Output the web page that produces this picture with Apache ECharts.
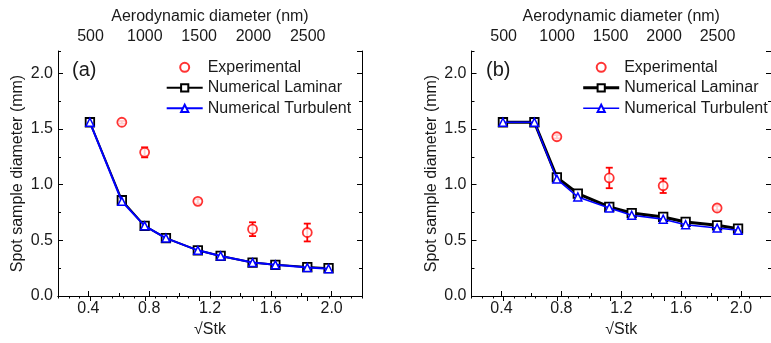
<!DOCTYPE html>
<html><head><meta charset="utf-8">
<script src="https://cdn.jsdelivr.net/npm/echarts@6/dist/echarts.min.js"></script>
<style>html,body{margin:0;padding:0;background:#fff}#c{width:771px;height:343px}</style>
</head><body><div id="c"></div>
<script>
// ---- data ----
const stk = [0.41, 0.62, 0.77, 0.91, 1.12, 1.27, 1.48, 1.63, 1.84, 1.98];
const laminarA = [1.56, 0.86, 0.63, 0.52, 0.41, 0.36, 0.30, 0.28, 0.26, 0.25];
const turbulentA = [1.56, 0.85, 0.63, 0.52, 0.41, 0.36, 0.30, 0.28, 0.255, 0.245];
const expXA = [0.62, 0.77, 1.12, 1.48, 1.84];
const expYA = [1.56, 1.29, 0.85, 0.60, 0.57];
const expErrA = [0.012, 0.045, 0.02, 0.062, 0.08];
const laminarB = [1.56, 1.56, 1.065, 0.92, 0.80, 0.745, 0.71, 0.665, 0.635, 0.605];
const turbulentB = [1.56, 1.56, 1.05, 0.89, 0.79, 0.725, 0.69, 0.64, 0.61, 0.59];
const expXB = [0.77, 1.12, 1.48, 1.84];
const expYB = [1.43, 1.06, 0.99, 0.79];
const expErrB = [0.015, 0.092, 0.065, 0.02];
const bottomTicks = [0.4, 0.8, 1.2, 1.6, 2.0];
const topTicks = [500, 1000, 1500, 2000, 2500];
const panelLabels = ['(a)', '(b)'];
const names = ['Experimental', 'Numerical Laminar', 'Numerical Turbulent'];

const FONT = 'Liberation Sans, Arial, sans-serif';
const TXT = '#1a1a1a';
const chart = echarts.init(document.getElementById('c'));

const gridsPos = [{left: 58, top: 51, width: 304, height: 245}, {left: 471.5, top: 51, width: 304, height: 245}];
const xAxes = [], yAxes = [];
gridsPos.forEach((g, gi) => {
  const line = {show: true, lineStyle: {color: '#000', width: 1}};
  // bottom main
  xAxes.push({gridIndex: gi, type: 'value', position: 'bottom', min: 0.2, max: 2.2,
    name: '√Stk', nameLocation: 'middle', nameGap: 26,
    nameTextStyle: {fontSize: 16, color: TXT, fontFamily: FONT},
    axisLine: line, splitLine: {show: false},
    axisTick: {inside: true, length: 5, customValues: bottomTicks, lineStyle: {color: '#000'}},
    axisLabel: {customValues: bottomTicks, margin: 5, fontSize: 16, color: TXT, fontFamily: FONT, formatter: v => v.toFixed(1)}});
  // bottom minor
  xAxes.push({gridIndex: gi, type: 'value', position: 'bottom', min: 0.2, max: 2.2, interval: 0.2,
    axisLine: {show: false}, splitLine: {show: false}, axisLabel: {show: false},
    axisTick: {inside: true, length: 3, lineStyle: {color: '#000'}}});
  // top main
  xAxes.push({gridIndex: gi, type: 'value', position: 'top', min: 200, max: 3000,
    name: 'Aerodynamic diameter (nm)', nameLocation: 'middle', nameGap: 26,
    nameTextStyle: {fontSize: 16, color: TXT, fontFamily: FONT},
    axisLine: line, splitLine: {show: false},
    axisTick: {inside: true, length: 5, customValues: topTicks, lineStyle: {color: '#000'}},
    axisLabel: {customValues: topTicks, margin: 6, fontSize: 16, color: TXT, fontFamily: FONT, formatter: v => String(v)}});
  // top minor
  xAxes.push({gridIndex: gi, type: 'value', position: 'top', min: 200, max: 3000, interval: 100,
    axisLine: {show: false}, splitLine: {show: false}, axisLabel: {show: false},
    axisTick: {inside: true, length: 2.5, lineStyle: {color: '#000'}}});
  // left main
  yAxes.push({gridIndex: gi, type: 'value', position: 'left', min: 0, max: 2.2, interval: 0.5,
    name: 'Spot sample diameter (mm)', nameLocation: 'middle', nameGap: 32,
    nameTextStyle: {fontSize: 16, color: TXT, fontFamily: FONT},
    axisLine: line, splitLine: {show: false},
    axisTick: {inside: true, length: 5, lineStyle: {color: '#000'}},
    axisLabel: {margin: 5, fontSize: 16, color: TXT, fontFamily: FONT, showMaxLabel: false, formatter: v => v.toFixed(1)}});
  // left minor
  yAxes.push({gridIndex: gi, type: 'value', position: 'left', min: 0, max: 2.2, interval: 0.25,
    axisLine: {show: false}, splitLine: {show: false}, axisLabel: {show: false},
    axisTick: {inside: true, length: 3, lineStyle: {color: '#000'}}});
  // right main
  yAxes.push({gridIndex: gi, type: 'value', position: 'right', min: 0, max: 2.2, interval: 0.5,
    axisLine: line, splitLine: {show: false}, axisLabel: {show: false},
    axisTick: {inside: true, length: 5, lineStyle: {color: '#000'}}});
  // right minor
  yAxes.push({gridIndex: gi, type: 'value', position: 'right', min: 0, max: 2.2, interval: 0.25,
    axisLine: {show: false}, splitLine: {show: false}, axisLabel: {show: false},
    axisTick: {inside: true, length: 3, lineStyle: {color: '#000'}}});
});

function errRender(params, api) {
  const x = api.value(0), y = api.value(1), e = api.value(2);
  const hi = api.coord([x, y + e]), lo = api.coord([x, y - e]);
  const w = 3.5, st = {stroke: '#ff0000', lineWidth: 1.8};
  return {type: 'group', children: [
    {type: 'line', shape: {x1: hi[0], y1: hi[1], x2: lo[0], y2: lo[1]}, style: st},
    {type: 'line', shape: {x1: hi[0] - w, y1: hi[1], x2: hi[0] + w, y2: hi[1]}, style: st},
    {type: 'line', shape: {x1: lo[0] - w, y1: lo[1], x2: lo[0] + w, y2: lo[1]}, style: st}
  ]};
}

const panels = [
  {lam: laminarA, tur: turbulentA, ex: expXA, ey: expYA, ee: expErrA, lamW: 2, turW: 2},
  {lam: laminarB, tur: turbulentB, ex: expXB, ey: expYB, ee: expErrB, lamW: 3, turW: 1.6}
];
const series = [];
panels.forEach((p, gi) => {
  const xi = gi * 4, yi = gi * 4;
  series.push({type: 'custom', xAxisIndex: xi, yAxisIndex: yi, z: 2, silent: true,
    encode: {x: 0, y: 1}, renderItem: errRender,
    data: p.ex.map((x, i) => [x, p.ey[i], p.ee[i]])});
  series.push({type: 'line', name: names[1], xAxisIndex: xi, yAxisIndex: yi, z: 3,
    symbol: 'rect', symbolSize: 8.5, showAllSymbol: true,
    lineStyle: {color: '#000', width: p.lamW},
    itemStyle: {color: '#fff', borderColor: '#000', borderWidth: 1.8},
    data: stk.map((x, i) => [x, p.lam[i]])});
  series.push({type: 'line', name: names[2], xAxisIndex: xi, yAxisIndex: yi, z: 4,
    symbol: 'triangle', symbolSize: 8, showAllSymbol: true,
    lineStyle: {color: '#0000ff', width: p.turW},
    itemStyle: {color: '#fff', borderColor: '#0000ff', borderWidth: 1.5},
    data: stk.map((x, i) => [x, p.tur[i]])});
  series.push({type: 'scatter', name: names[0], xAxisIndex: xi, yAxisIndex: yi, z: 5,
    symbol: 'circle', symbolSize: 9,
    itemStyle: {color: '#fff', borderColor: '#ff0000', borderWidth: 1.8},
    data: p.ex.map((x, i) => [x, p.ey[i]])});
});

const legendBase = {orient: 'vertical', itemWidth: 36, itemHeight: 9, itemGap: 4.5, padding: 0,
  textStyle: {fontSize: 16, color: TXT, fontFamily: FONT}, selectedMode: false};

chart.setOption({
  animation: false,
  backgroundColor: '#fff',
  title: [
    {text: panelLabels[0], left: 72, top: 60, padding: 0, textStyle: {fontSize: 20, fontWeight: 'normal', color: TXT, fontFamily: FONT}},
    {text: panelLabels[1], left: 486, top: 60, padding: 0, textStyle: {fontSize: 20, fontWeight: 'normal', color: TXT, fontFamily: FONT}}
  ],
  legend: [
    Object.assign({}, legendBase, {left: 165.7, top: 59.3, data: names}),
    Object.assign({}, legendBase, {left: 581.7, top: 59.3, data: [
      names[0], {name: names[1], lineStyle: {width: 3}}, {name: names[2], lineStyle: {width: 1.6}}]})
  ],
  grid: gridsPos,
  xAxis: xAxes,
  yAxis: yAxes,
  series: series
});
</script></body></html>
